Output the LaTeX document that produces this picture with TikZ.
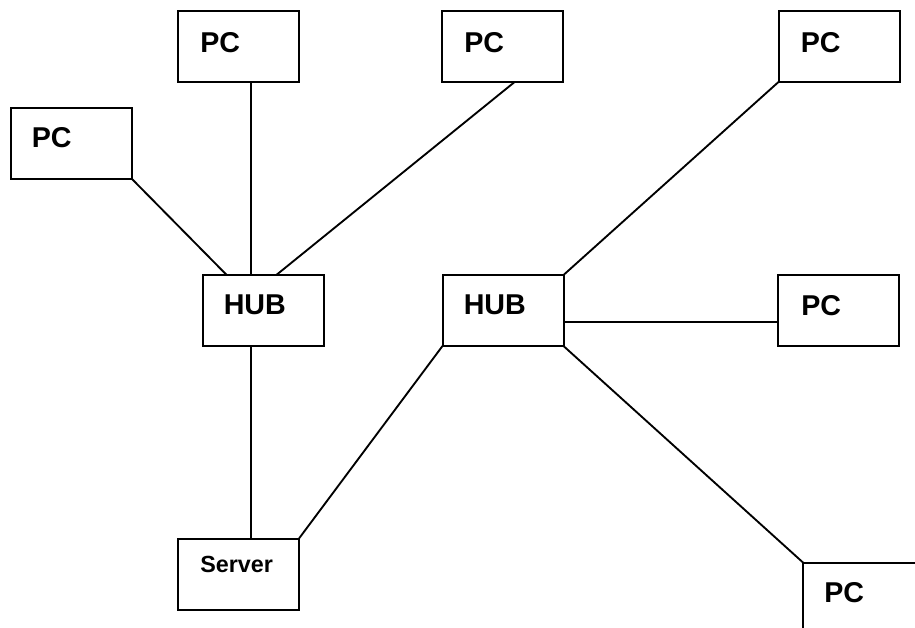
\documentclass[tikz,border=0pt]{standalone}
\usepackage{fontspec}
\setmainfont{Liberation Sans}
\usetikzlibrary{calc}
\tikzset{
  box/.style={draw, line width=1.5pt, rectangle, inner sep=0pt, outer sep=0pt,
    minimum width=90.75pt, minimum height=53.25pt},
  lbl/.style={font=\bfseries\fontsize{21.5}{24}\selectfont, inner sep=0pt, anchor=base west},
  small/.style={font=\bfseries\fontsize{17.5}{20}\selectfont, inner sep=0pt, anchor=base west},
  link/.style={line width=1.4pt}
}
\begin{document}
\begin{tikzpicture}[x=0.75pt, y=-0.75pt]
\useasboundingbox (0,0) rectangle (915,628);
\clip (0,0) rectangle (915,628);
\fill[white] (0,0) rectangle (915,628);

% boxes
\node[box] (pcA) at (238.5,46.5) {};
\node[box] (pcB) at (71,143) {};
\node[box] (pcC) at (502.5,46.5) {};
\node[box] (pcD) at (839,46.5) {};
\node[box] (hubL) at (263,310.5) {};
\node[box] (hubR) at (503,310.5) {};
\node[box] (pcE) at (838.5,310.5) {};
\node[box] (srv) at (238.5,574) {};
\node[box] (pcF) at (863.5,598) {};

% labels
\node[lbl] (tA) at ([shift={(22,41)}]pcA.north west) {PC};
\node[lbl] (tB) at ([shift={(21,40)}]pcB.north west) {PC};
\node[lbl] (tC) at ([shift={(22,41)}]pcC.north west) {PC};
\node[lbl] (tD) at ([shift={(22,41)}]pcD.north west) {PC};
\node[lbl] (tHL) at ([shift={(21,39)}]hubL.north west) {HUB};
\node[lbl] (tHR) at ([shift={(21,39)}]hubR.north west) {HUB};
\node[lbl] (tE) at ([shift={(23,40)}]pcE.north west) {PC};
\node[small] (tS) at ([shift={(22,34)}]srv.north west) {Server};
\node[lbl] (tF) at ([shift={(21,40)}]pcF.north west) {PC};

% attachment points
\coordinate (aTop) at ($(pcA.south west)!0.6!(pcA.south east)$);
\coordinate (aSrv) at ($(srv.north west)!0.6!(srv.north east)$);
\coordinate (aMid) at ($(hubR.north east)!0.66!(hubR.south east)$);

% links of the left hub
\draw[link] (pcB.south east) -- ($(hubL.north west)!0.2!(hubL.north east)$);
\draw[link] (aTop) -- (aTop |- hubL.north);
\draw[link] ($(pcC.south west)!0.6!(pcC.south east)$) -- ($(hubL.north west)!0.61!(hubL.north east)$);
\draw[link] (aSrv |- hubL.south) -- (aSrv);

% links of the right hub
\draw[link] (hubR.south west) -- (srv.north east);
\draw[link] (hubR.north east) -- (pcD.south west);
\draw[link] (aMid) -- (aMid -| pcE.west);
\draw[link] (hubR.south east) -- (pcF.north west);
\end{tikzpicture}
\end{document}
